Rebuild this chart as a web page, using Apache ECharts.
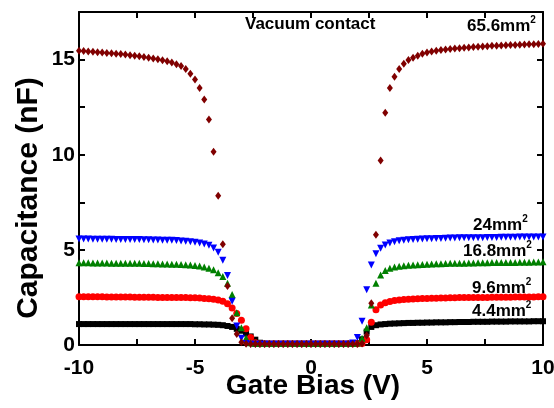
<!DOCTYPE html>
<html>
<head>
<meta charset="utf-8">
<script src="https://cdn.jsdelivr.net/npm/echarts@6/dist/echarts.min.js"></script>
<style>
html,body{margin:0;padding:0;background:#fff;}
#chart{width:554px;height:408px;}
</style>
</head>
<body>
<div id="chart"></div>
<script>
// Gate bias sweep (V)
const bias = [
  -10,-9.8,-9.6,-9.4,-9.2,-9,-8.8,-8.6,-8.4,-8.2,
  -8,-7.8,-7.6,-7.4,-7.2,-7,-6.8,-6.6,-6.4,-6.2,
  -6,-5.8,-5.6,-5.4,-5.2,-5,-4.8,-4.6,-4.4,-4.2,
  -4,-3.8,-3.6,-3.4,-3.2,-3,-2.8,-2.6,-2.4,-2.2,
  -2,-1.8,-1.6,-1.4,-1.2,-1,-0.8,-0.6,-0.4,-0.2,
  0,0.2,0.4,0.6,0.8,1,1.2,1.4,1.6,1.8,
  2,2.2,2.4,2.6,2.8,3,3.2,3.4,3.6,3.8,
  4,4.2,4.4,4.6,4.8,5,5.2,5.4,5.6,5.8,
  6,6.2,6.4,6.6,6.8,7,7.2,7.4,7.6,7.8,
  8,8.2,8.4,8.6,8.8,9,9.2,9.4,9.6,9.8,10
];
// Capacitance (nF) per contact area
const cap_4_4 = [
  1.10,1.10,1.10,1.10,1.10,1.10,1.10,1.10,1.10,1.10,
  1.10,1.10,1.10,1.10,1.10,1.10,1.10,1.10,1.10,1.10,
  1.10,1.10,1.10,1.10,1.10,1.09,1.09,1.08,1.08,1.07,
  1.06,1.04,1.00,0.95,0.85,0.75,0.60,0.45,0.28,0.12,
  0.07,0.06,0.06,0.06,0.06,0.06,0.06,0.06,0.06,0.06,
  0.06,0.06,0.06,0.06,0.06,0.06,0.06,0.06,0.06,0.07,
  0.10,0.30,0.70,0.95,1.04,1.08,1.10,1.12,1.13,1.14,
  1.15,1.16,1.16,1.17,1.17,1.18,1.18,1.19,1.19,1.19,
  1.20,1.20,1.21,1.21,1.21,1.22,1.22,1.22,1.22,1.23,
  1.23,1.23,1.23,1.24,1.24,1.24,1.24,1.24,1.25,1.25,1.25
];
const cap_9_6 = [
  2.53,2.53,2.53,2.53,2.53,2.53,2.52,2.52,2.52,2.52,
  2.52,2.52,2.51,2.51,2.51,2.51,2.51,2.50,2.50,2.50,
  2.50,2.50,2.49,2.49,2.48,2.48,2.47,2.45,2.43,2.41,
  2.37,2.30,2.17,1.95,1.65,1.30,0.85,0.40,0.12,0.07,
  0.06,0.06,0.06,0.06,0.06,0.06,0.06,0.06,0.06,0.06,
  0.06,0.06,0.06,0.06,0.06,0.06,0.06,0.06,0.06,0.06,
  0.06,0.08,0.27,1.20,1.85,2.10,2.22,2.29,2.34,2.37,
  2.39,2.41,2.42,2.43,2.44,2.45,2.46,2.46,2.47,2.47,
  2.48,2.48,2.49,2.49,2.49,2.50,2.50,2.50,2.50,2.51,
  2.51,2.51,2.51,2.51,2.52,2.52,2.52,2.52,2.52,2.53,2.53
];
const cap_16_8 = [
  4.32,4.32,4.32,4.31,4.31,4.31,4.31,4.30,4.30,4.30,
  4.30,4.29,4.29,4.29,4.28,4.28,4.27,4.27,4.26,4.26,
  4.25,4.24,4.23,4.22,4.20,4.18,4.15,4.10,4.03,3.95,
  3.80,3.60,3.25,2.65,1.70,0.90,0.37,0.12,0.08,0.08,
  0.08,0.08,0.08,0.08,0.08,0.08,0.08,0.08,0.08,0.08,
  0.08,0.08,0.08,0.08,0.08,0.08,0.08,0.08,0.08,0.08,
  0.10,0.35,0.90,2.10,3.25,3.68,3.92,4.03,4.10,4.14,
  4.17,4.19,4.21,4.22,4.23,4.25,4.26,4.27,4.27,4.28,
  4.29,4.29,4.30,4.30,4.31,4.31,4.32,4.32,4.32,4.33,
  4.33,4.33,4.34,4.34,4.34,4.35,4.35,4.35,4.36,4.36,4.37
];
const cap_24 = [
  5.57,5.57,5.57,5.56,5.56,5.56,5.56,5.56,5.55,5.55,
  5.55,5.55,5.54,5.54,5.53,5.53,5.52,5.52,5.51,5.51,
  5.50,5.49,5.47,5.45,5.43,5.40,5.36,5.31,5.24,5.10,
  4.88,4.45,3.65,2.30,1.00,0.35,0.08,0.04,0.04,0.04,
  0.04,0.04,0.04,0.04,0.04,0.04,0.04,0.04,0.04,0.04,
  0.04,0.04,0.04,0.04,0.04,0.04,0.04,0.04,0.04,0.10,
  0.40,1.25,2.90,4.20,4.80,5.08,5.25,5.36,5.43,5.48,
  5.51,5.53,5.55,5.56,5.57,5.58,5.59,5.60,5.60,5.61,
  5.62,5.62,5.63,5.63,5.63,5.64,5.64,5.64,5.65,5.65,
  5.65,5.66,5.66,5.66,5.66,5.67,5.67,5.67,5.67,5.68,5.68
];
const cap_65_6 = [
  15.47,15.45,15.43,15.41,15.39,15.37,15.35,15.33,15.31,15.29,
  15.26,15.23,15.20,15.17,15.14,15.10,15.06,15.02,14.97,14.91,
  14.84,14.76,14.66,14.50,14.25,13.95,13.50,12.90,11.85,10.15,
  7.85,5.30,3.10,1.40,0.58,0.15,0.06,0.05,0.05,0.05,
  0.05,0.05,0.05,0.05,0.05,0.05,0.05,0.05,0.05,0.05,
  0.05,0.05,0.05,0.05,0.05,0.05,0.05,0.05,0.05,0.05,
  0.05,0.08,0.50,2.20,5.80,9.70,12.20,13.50,14.10,14.50,
  14.78,14.98,15.10,15.20,15.30,15.37,15.42,15.46,15.50,15.53,
  15.56,15.58,15.60,15.62,15.64,15.66,15.67,15.69,15.70,15.72,
  15.73,15.74,15.75,15.76,15.77,15.78,15.79,15.80,15.81,15.82,15.83
];
const areaNames = ['4.4','9.6','16.8','24','65.6'];
const areaUnit = 'mm';
const areaSup = '2';
const titleText = 'Vacuum contact';
const xAxisName = 'Gate Bias (V)';
const yAxisName = 'Capacitance (nF)';
const xTicks = [-10,-5,0,5,10];
const yTicks = [0,5,10,15];

const FONT = '"Liberation Sans", Arial, sans-serif';
const pair = arr => arr.map((v,i) => [bias[i], v]);

const axisCommon = {
  type: 'value',
  splitLine: {show:false},
  axisLine: {show:true, onZero:false, lineStyle:{color:'#000', width:2}},
  axisTick: {show:true, inside:true, length:6, lineStyle:{color:'#000', width:2}}
};
const labelStyle = {color:'#000', fontFamily:FONT, fontWeight:'bold', fontSize:21};

const richLabel = {
  m:{fontFamily:FONT, fontWeight:'bold', fontSize:17, lineHeight:20, verticalAlign:'bottom', fill:'#000'},
  s:{fontFamily:FONT, fontWeight:'bold', fontSize:10, lineHeight:10, verticalAlign:'top', fill:'#000'}
};
function areaText(i, left, top){
  return {type:'text', left:left, top:top, style:{
    text:'{m|' + areaNames[i] + areaUnit + '}{s|' + areaSup + '}', rich:richLabel}};
}

const chart = echarts.init(document.getElementById('chart'), null, {renderer:'canvas'});
chart.setOption({
  backgroundColor:'#fff',
  animation:false,
  grid:{left:79, right:11, top:12, bottom:63, containLabel:false, outerBoundsMode:'none'},
  xAxis:[
    Object.assign({}, axisCommon, {
      position:'bottom', min:-10, max:10, interval:2.5,
      axisLabel: Object.assign({}, labelStyle, {margin:13,
        formatter: v => xTicks.includes(v) ? String(v) : ''})
    }),
    Object.assign({}, axisCommon, {
      position:'top', min:-10, max:10, interval:2.5, axisLabel:{show:false}
    })
  ],
  yAxis:[
    Object.assign({}, axisCommon, {
      position:'left', min:0, max:17.5, interval:2.5,
      axisLabel: Object.assign({}, labelStyle, {margin:4,
        formatter: v => yTicks.includes(v) ? String(v) : ''})
    }),
    Object.assign({}, axisCommon, {
      position:'right', min:0, max:17.5, interval:2.5, axisLabel:{show:false}
    })
  ],
  series:[
    {type:'scatter', data:pair(cap_4_4), symbol:'rect', symbolSize:6,
      itemStyle:{color:'#000000', opacity:1}},
    {type:'scatter', data:pair(cap_9_6), symbol:'circle', symbolSize:7,
      itemStyle:{color:'#ff0000', opacity:1}},
    {type:'scatter', data:pair(cap_16_8), symbol:'triangle', symbolSize:7,
      itemStyle:{color:'#008000', opacity:1}},
    {type:'scatter', data:pair(cap_24), symbol:'triangle', symbolRotate:180, symbolSize:7,
      itemStyle:{color:'#0000ff', opacity:1}},
    {type:'scatter', data:pair(cap_65_6), symbol:'diamond', symbolSize:[6,8],
      itemStyle:{color:'#800000', opacity:1}}
  ],
  graphic:[
    {type:'text', left:245, top:16, style:{text:titleText, fill:'#000', font:'bold 17px '+FONT}},
    areaText(4, 467, 15),
    areaText(3, 473, 214),
    areaText(2, 463, 240),
    areaText(1, 472, 277),
    areaText(0, 472, 300),
    {type:'text', x:313, y:386, style:{text:xAxisName, fill:'#000', font:'bold 28px '+FONT,
      textAlign:'center', textVerticalAlign:'middle'}},
    {type:'text', x:29, y:198, rotation:Math.PI/2, style:{text:yAxisName, fill:'#000',
      font:'bold 30px '+FONT, textAlign:'center', textVerticalAlign:'middle'}}
  ]
});
</script>
</body>
</html>
